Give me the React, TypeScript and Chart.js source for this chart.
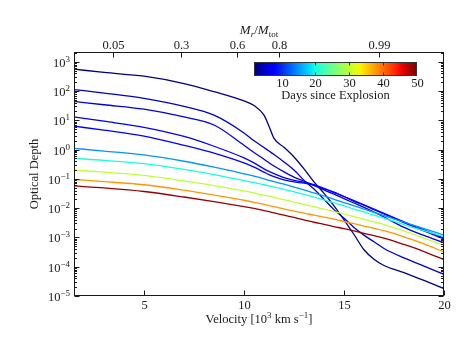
import React, { useEffect, useRef } from 'react';
import { Chart, registerables } from 'chart.js';

Chart.register(...registerables);

// ---------- data ----------
const velocity = [1.5, 3, 5, 7, 8.5, 10, 10.5, 11, 11.25, 11.5, 12, 12.5, 13, 13.5, 14, 14.5, 15, 15.5, 16, 16.5, 17, 18, 19, 20];

const tauDay2 = [5.6e2, 4.3e2, 3.2e2, 1.8e2, 9.5e1, 4.6e1, 3.2e1, 1.5e1, 6.3, 2.4, 1.2, 5.6e-1, 2.2e-1, 7.9e-2, 3.2e-2, 1.2e-2, 4.0e-3, 1.26e-3, 3.8e-4, 1.8e-4, 1.1e-4, 6.3e-5, 3.4e-5, 1.8e-5];
const tauDay5 = [1.12e2, 8.5e1, 5.6e1, 3.0e1, 1.5e1, 3.7, 2.0, 1.17, 8.9e-1, 6.8e-1, 3.8e-1, 2.0e-1, 8.9e-2, 4.5e-2, 2.0e-2, 8.9e-3, 4.5e-3, 2.2e-3, 1.2e-3, 7.1e-4, 4.2e-4, 2.0e-4, 1.05e-4, 5.5e-5];
const tauDay6 = [4.4e1, 3.4e1, 2.4e1, 1.3e1, 6.9, 1.4, 7.9e-1, 4.7e-1, 3.55e-1, 2.75e-1, 1.74e-1, 1.15e-1, 8.3e-2, 6.0e-2, 4.2e-2, 3.0e-2, 2.1e-2, 1.5e-2, 1.07e-2, 7.4e-3, 5.0e-3, 2.2e-3, 1.17e-3, 6.6e-4];
const tauDay7 = [1.3e1, 9.3, 5.75, 2.8, 1.3, 5.2e-1, 3.5e-1, 2.2e-1, 1.8e-1, 1.5e-1, 1.1e-1, 8.9e-2, 7.6e-2, 6.3e-2, 4.7e-2, 3.5e-2, 2.5e-2, 1.8e-2, 1.3e-2, 9.3e-3, 6.6e-3, 3.4e-3, 1.8e-3, 9.5e-4];
const tauDay8 = [6.3, 4.6, 2.9, 1.4, 7.6e-1, 3.5e-1, 2.5e-1, 1.7e-1, 1.4e-1, 1.2e-1, 9.3e-2, 7.9e-2, 7.1e-2, 6.0e-2, 4.6e-2, 3.4e-2, 2.5e-2, 1.7e-2, 1.26e-2, 8.9e-3, 6.3e-3, 3.2e-3, 1.66e-3, 8.9e-4];
const tauDay15 = [1.1, 8.9e-1, 6.6e-1, 4.0e-1, 2.5e-1, 1.48e-1, 1.23e-1, 1.0e-1, 8.9e-2, 8.1e-2, 6.6e-2, 5.25e-2, 4.2e-2, 3.3e-2, 2.6e-2, 2.0e-2, 1.55e-2, 1.2e-2, 9.3e-3, 7.2e-3, 5.6e-3, 3.3e-3, 2.0e-3, 1.2e-3];
const tauDay20 = [5.0e-1, 4.3e-1, 3.3e-1, 2.1e-1, 1.4e-1, 8.7e-2, 7.4e-2, 6.3e-2, 5.75e-2, 5.25e-2, 4.4e-2, 3.6e-2, 2.95e-2, 2.4e-2, 1.9e-2, 1.5e-2, 1.2e-2, 9.3e-3, 7.4e-3, 5.75e-3, 4.6e-3, 2.75e-3, 1.7e-3, 1.07e-3];
const tauDay30 = [2.0e-1, 1.7e-1, 1.32e-1, 8.5e-2, 5.9e-2, 3.9e-2, 3.3e-2, 2.8e-2, 2.6e-2, 2.35e-2, 1.95e-2, 1.6e-2, 1.35e-2, 1.12e-2, 9.3e-3, 7.6e-3, 6.3e-3, 5.1e-3, 4.2e-3, 3.4e-3, 2.75e-3, 1.66e-3, 9.5e-4, 5.4e-4];
const tauDay38 = [9.5e-2, 8.1e-2, 6.3e-2, 4.1e-2, 2.8e-2, 1.86e-2, 1.58e-2, 1.35e-2, 1.23e-2, 1.12e-2, 9.5e-3, 7.9e-3, 6.8e-3, 5.75e-3, 4.9e-3, 4.2e-3, 3.5e-3, 2.95e-3, 2.45e-3, 2.04e-3, 1.7e-3, 1.05e-3, 6.0e-4, 3.2e-4];
const tauDay49 = [5.75e-2, 4.9e-2, 3.7e-2, 2.4e-2, 1.66e-2, 1.12e-2, 9.8e-3, 8.3e-3, 7.6e-3, 6.9e-3, 5.75e-3, 4.8e-3, 4.0e-3, 3.3e-3, 2.8e-3, 2.35e-3, 2.0e-3, 1.66e-3, 1.38e-3, 1.15e-3, 9.5e-4, 5.75e-4, 3.3e-4, 1.74e-4];

const days = [2, 5, 6, 7, 8, 15, 20, 30, 38, 49];
const series = [tauDay2, tauDay5, tauDay6, tauDay7, tauDay8, tauDay15, tauDay20, tauDay30, tauDay38, tauDay49];

const xMin = 1.5;
const xMax = 20;
const yMin = 1e-5;
const yMax = 2.15e3;
const xTicks = [5, 10, 15, 20];
const yTickExponents = [3, 2, 1, 0, -1, -2, -3, -4, -5];
const massTickLabels = ['0.05', '0.3', '0.6', '0.8', '0.99'];
const massTickVelocity = [3.47, 6.85, 9.65, 11.77, 16.75];
const colorbarMin = 2;
const colorbarMax = 50;
const colorbarTicks = [10, 20, 30, 40, 50];

// ---------- helpers ----------
const SERIF = '"Liberation Serif", "DejaVu Serif", serif';
const INK = '#1a1a1a';

function seg(pts: number[][], t: number): number {
  for (let i = 1; i < pts.length; i++) {
    if (t <= pts[i][0]) {
      const [x0, y0] = pts[i - 1];
      const [x1, y1] = pts[i];
      return y0 + ((y1 - y0) * (t - x0)) / (x1 - x0);
    }
  }
  return pts[pts.length - 1][1];
}

function jet(t: number): string {
  const u = Math.max(0, Math.min(1, t));
  const r = seg([[0, 0], [0.35, 0], [0.66, 1], [0.89, 1], [1, 0.5]], u);
  const g = seg([[0, 0], [0.125, 0], [0.375, 1], [0.64, 1], [0.91, 0], [1, 0]], u);
  const b = seg([[0, 0.5], [0.11, 1], [0.34, 1], [0.65, 0], [1, 0]], u);
  return `rgb(${Math.round(r * 255)},${Math.round(g * 255)},${Math.round(b * 255)})`;
}

type Part = { t: string; size: number; italic?: boolean; rise?: number };

function fontOf(p: Part) {
  return `${p.italic ? 'italic ' : ''}${p.size}px ${SERIF}`;
}

function drawRich(ctx: CanvasRenderingContext2D, parts: Part[], x: number, y: number, align: 'left' | 'center' | 'right') {
  let w = 0;
  for (const p of parts) {
    ctx.font = fontOf(p);
    w += ctx.measureText(p.t).width;
  }
  let cx = align === 'left' ? x : align === 'center' ? x - w / 2 : x - w;
  ctx.textAlign = 'left';
  ctx.textBaseline = 'alphabetic';
  for (const p of parts) {
    ctx.font = fontOf(p);
    ctx.fillText(p.t, cx, y - (p.rise || 0));
    cx += ctx.measureText(p.t).width;
  }
}

function line(ctx: CanvasRenderingContext2D, x1: number, y1: number, x2: number, y2: number) {
  ctx.beginPath();
  ctx.moveTo(x1, y1);
  ctx.lineTo(x2, y2);
  ctx.stroke();
}

const sup = (e: number) => (e < 0 ? '\u2212' + String(-e) : String(e));

const overlay = {
  id: 'overlay',
  afterDraw(chart: any) {
    const ctx: CanvasRenderingContext2D = chart.ctx;
    const a = chart.chartArea;
    const xs = chart.scales.x;
    const ys = chart.scales.y;
    const L = Math.round(a.left) + 0.5;
    const R = Math.round(a.right) - 0.5;
    const T = Math.round(a.top) + 0.5;
    const B = Math.round(a.bottom) - 0.5;
    ctx.save();
    ctx.strokeStyle = INK;
    ctx.fillStyle = INK;
    ctx.lineWidth = 1;

    // frame
    ctx.strokeRect(L, T, R - L, B - T);

    // y ticks (major + minor) on both sides, with labels on the left
    for (const e of yTickExponents) {
      const v = Math.pow(10, e);
      const py = Math.round(ys.getPixelForValue(v)) + 0.5;
      line(ctx, L, py, L + 5, py);
      line(ctx, R - 5, py, R, py);
      drawRich(
        ctx,
        [
          { t: '10', size: 12.5 },
          { t: sup(e), size: 9, rise: 5 },
        ],
        a.left - 4,
        py + 4.3,
        'right'
      );
      for (let m = 2; m <= 9; m++) {
        const mv = m * v;
        if (mv >= yMax) break;
        const my = Math.round(ys.getPixelForValue(mv)) + 0.5;
        line(ctx, L, my, L + 2.5, my);
        line(ctx, R - 2.5, my, R, my);
      }
    }

    // bottom ticks
    for (const v of xTicks) {
      const px = Math.round(xs.getPixelForValue(v)) + 0.5;
      line(ctx, px, B, px, B - 5);
      drawRich(ctx, [{ t: String(v), size: 12.5 }], px, a.bottom + 12.8, 'center');
    }

    // top (mass coordinate) ticks
    massTickLabels.forEach((lab, i) => {
      const px = Math.round(xs.getPixelForValue(massTickVelocity[i])) + 0.5;
      line(ctx, px, T, px, T + 5);
      drawRich(ctx, [{ t: lab, size: 12.5 }], px, a.top - 3.5, 'center');
    });

    const cxm = (a.left + a.right) / 2;

    // x title
    drawRich(
      ctx,
      [
        { t: 'Velocity [10', size: 12.5 },
        { t: '3', size: 9, rise: 5 },
        { t: ' km s', size: 12.5 },
        { t: '\u22121', size: 9, rise: 5 },
        { t: ']', size: 12.5 },
      ],
      cxm,
      a.bottom + 27,
      'center'
    );

    // top title M_r / M_tot
    drawRich(
      ctx,
      [
        { t: 'M', size: 13, italic: true },
        { t: 'r', size: 9, italic: true, rise: -2.5 },
        { t: '/', size: 13 },
        { t: 'M', size: 13, italic: true },
        { t: 'tot', size: 9, rise: -2.5 },
      ],
      cxm,
      a.top - 18,
      'center'
    );

    // y title
    ctx.save();
    ctx.translate(33, (a.top + a.bottom) / 2);
    ctx.rotate(-Math.PI / 2);
    drawRich(ctx, [{ t: 'Optical Depth', size: 12.5 }], 0, 4.5, 'center');
    ctx.restore();

    // colorbar
    const cbL = 254.5;
    const cbR = 416.5;
    const cbT = 62.5;
    const cbB = 75.5;
    const grad = ctx.createLinearGradient(cbL, 0, cbR, 0);
    for (let i = 0; i <= 40; i++) grad.addColorStop(i / 40, jet(i / 40));
    ctx.fillStyle = grad;
    ctx.fillRect(cbL, cbT, cbR - cbL, cbB - cbT);
    ctx.fillStyle = INK;
    ctx.strokeStyle = '#333';
    ctx.strokeRect(cbL, cbT, cbR - cbL, cbB - cbT);
    for (const d of colorbarTicks) {
      const px = Math.round(cbL + ((d - colorbarMin) / (colorbarMax - colorbarMin)) * (cbR - cbL)) + 0.5;
      if (px < cbR - 1) {
        line(ctx, px, cbT, px, cbT + 3);
        line(ctx, px, cbB, px, cbB - 3);
      }
      drawRich(ctx, [{ t: String(d), size: 12.5 }], px, 87, 'center');
    }
    drawRich(ctx, [{ t: 'Days since Explosion', size: 12.5 }], (cbL + cbR) / 2, 98.5, 'center');

    ctx.restore();
  },
};

export default function App() {
  const ref = useRef<HTMLCanvasElement | null>(null);

  useEffect(() => {
    if (!ref.current) return;
    const datasets = series.map((vals, i) => ({
      label: `Day ${days[i]}`,
      data: velocity.map((v, j) => ({ x: v, y: vals[j] })),
      borderColor: jet((days[i] - colorbarMin) / (colorbarMax - colorbarMin)),
      backgroundColor: 'transparent',
      borderWidth: 1.3,
      pointRadius: 0,
      fill: false,
      cubicInterpolationMode: 'monotone' as const,
      order: series.length - i,
    }));
    const chart = new Chart(ref.current, {
      type: 'line',
      data: { datasets },
      options: {
        animation: false,
        responsive: false,
        devicePixelRatio: 1,
        layout: { padding: { left: 74, top: 52, right: 19, bottom: 52 } },
        plugins: { legend: { display: false }, tooltip: { enabled: false } },
        scales: {
          x: { type: 'linear', min: xMin, max: xMax, display: false },
          y: { type: 'logarithmic', min: yMin, max: yMax, display: false },
        },
      },
      plugins: [overlay],
    });
    return () => chart.destroy();
  }, []);

  return (
    <div style={{ position: 'absolute', left: 0, top: 0, width: 463, height: 348, background: '#fff' }}>
      <canvas ref={ref} width={463} height={348} style={{ width: 463, height: 348, display: 'block' }} />
    </div>
  );
}
